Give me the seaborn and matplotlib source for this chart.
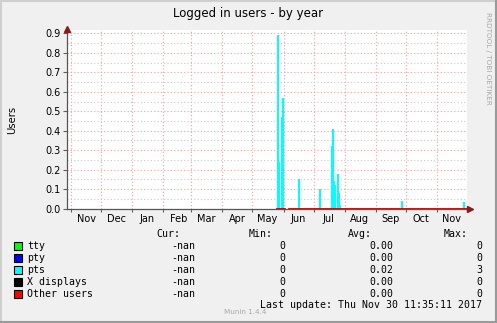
import matplotlib
matplotlib.use("Agg")
import matplotlib.pyplot as plt
import matplotlib.dates as mdates
import matplotlib.ticker as mticker
from matplotlib.patches import Rectangle
from matplotlib.lines import Line2D
import seaborn as sns
import pandas as pd
import numpy as np

# ---------------- data ----------------
title = "Logged in users - by year"
y_label = "Users"
x_start = "2016-10-28"
x_end = "2017-12-01"
y_ticks = [0.0, 0.1, 0.2, 0.3, 0.4, 0.5, 0.6, 0.7, 0.8, 0.9]

pts_dates = ["2017-05-26", "2017-05-27", "2017-05-30", "2017-05-31",
             "2017-06-16", "2017-07-07", "2017-07-19", "2017-07-20",
             "2017-07-21", "2017-07-22", "2017-07-25", "2017-07-26",
             "2017-07-27", "2017-09-27", "2017-11-28"]
pts_values = [0.89, 0.24, 0.47, 0.57,
              0.15, 0.10, 0.32, 0.41,
              0.14, 0.12, 0.18, 0.08,
              0.02, 0.04, 0.035]

# periods where "Other users" has data (value 0)
other_periods = [("2017-05-25", "2017-06-01"), ("2017-06-06", "2017-11-30")]
other_value = 0.0

legend_names = ["tty", "pty", "pts", "X displays", "Other users"]
legend_colors = ["#00ff00", "#0000ff", "#00ffff", "#000000", "#ff0000"]
cur_vals = ["-nan", "-nan", "-nan", "-nan", "-nan"]
min_vals = ["0", "0", "0", "0", "0"]
avg_vals = ["0.00", "0.00", "0.02", "0.00", "0.00"]
max_vals = ["0", "0", "3", "0", "0"]
last_update = "Last update: Thu Nov 30 11:35:11 2017"
munin_version = "Munin 1.4.4"
side_text = "RRDTOOL / TOBI OETIKER"

# ---------------- figure ----------------
W, H = 497, 323
fig = plt.figure(figsize=(W / 100, H / 100), dpi=100, facecolor="#f0f0f0")

def fx(x):
    return x / W

def fy(y):
    return 1 - y / H

ax_l, ax_r, ax_t, ax_b = 67, 467, 30, 208.7
ax = fig.add_axes([fx(ax_l), fy(ax_b), (ax_r - ax_l) / W, (ax_b - ax_t) / H])
ax.set_facecolor("white")

pts_num = mdates.date2num(pd.to_datetime(pts_dates))
sns.histplot(x=pts_num, weights=pts_values, discrete=True, color="#00ffff",
             alpha=1, linewidth=0.4, edgecolor="#00ffff", antialiased=False,
             ax=ax, zorder=3)

rows = []
for i, (a, b) in enumerate(other_periods):
    for d in pd.date_range(a, b, freq="D"):
        rows.append({"x": mdates.date2num(d), "y": other_value, "seg": i})
other_df = pd.DataFrame(rows)
sns.lineplot(data=other_df, x="x", y="y", units="seg", estimator=None,
             color="#c00000", linewidth=2.0, ax=ax, zorder=4, legend=False)

x0 = mdates.date2num(pd.Timestamp(x_start))
x1 = mdates.date2num(pd.Timestamp(x_end))
ax.set_xlim(x0, x1)
ax.set_ylim(0, 0.917)

# grid
ax.set_yticks(y_ticks)
ax.yaxis.set_major_formatter(mticker.FormatStrFormatter("%.1f"))
ax.yaxis.set_minor_locator(mticker.MultipleLocator(0.05))
ax.xaxis.set_major_locator(mdates.MonthLocator())
ax.xaxis.set_major_formatter(mticker.NullFormatter())
ax.xaxis.set_minor_locator(mdates.MonthLocator(bymonthday=16))
ax.xaxis.set_minor_formatter(mdates.DateFormatter("%b"))

ax.grid(which="major", axis="both", color="#f2a0a0", linestyle=(0, (1, 2)), linewidth=0.8, zorder=0)
ax.grid(which="minor", axis="y", color="#c8c8c8", linestyle=(0, (1, 2)), linewidth=0.8, zorder=0)
ax.set_axisbelow(True)

ax.tick_params(axis="y", which="major", length=3, width=0.8, color="#606060",
               labelsize=7, pad=1.5, labelcolor="black")
ax.tick_params(axis="y", which="minor", length=0)
ax.tick_params(axis="x", which="major", length=2.5, width=0.8, color="#606060",
               labelbottom=False)
ax.tick_params(axis="x", which="minor", length=0, labelsize=7, pad=4, labelcolor="black")
for lab in ax.get_yticklabels() + ax.get_xticklabels(minor=True):
    lab.set_fontfamily("DejaVu Sans")

for s in ["top", "right"]:
    ax.spines[s].set_visible(False)
for s in ["left", "bottom"]:
    ax.spines[s].set_color("#555555")
    ax.spines[s].set_linewidth(0.9)
    ax.spines[s].set_zorder(2)
ax.set_xlabel("")
ax.set_ylabel("")

# arrows
ax.plot([0], [1.005], marker="^", markersize=4.5, color="#8b1a1a", transform=ax.transAxes, clip_on=False, zorder=6)
ax.plot([1.008], [0], marker=">", markersize=4.5, color="#8b1a1a", transform=ax.transAxes, clip_on=False, zorder=6)

# titles / labels
fig.text(fx(248), fy(13), title, ha="center", va="center", fontsize=8.5, family="DejaVu Sans")
fig.text(fx(12), fy(120), y_label, ha="center", va="center", rotation=90, fontsize=7.2, family="DejaVu Sans")
fig.text(fx(488), fy(58), side_text, ha="center", va="center", rotation=270, fontsize=5.2,
         color="#a8a8a8", family="DejaVu Sans")

# legend
mono = "DejaVu Sans Mono"
fs = 7.1
header_y = 234
row_y = [246, 258, 270, 282, 294]
fig.text(fx(180), fy(header_y), "Cur:", ha="right", va="center", fontsize=fs, family=mono)
fig.text(fx(273), fy(header_y), "Min:", ha="right", va="center", fontsize=fs, family=mono)
fig.text(fx(372), fy(header_y), "Avg:", ha="right", va="center", fontsize=fs, family=mono)
fig.text(fx(468), fy(header_y), "Max:", ha="right", va="center", fontsize=fs, family=mono)
for i, name in enumerate(legend_names):
    y = row_y[i]
    fig.patches.append(Rectangle((fx(13.5), fy(y + 4)), 8 / W, 8 / H, transform=fig.transFigure,
                                 facecolor=legend_colors[i], edgecolor="black", linewidth=0.8))
    fig.text(fx(27), fy(y), name, ha="left", va="center", fontsize=fs, family=mono)
    fig.text(fx(195), fy(y), cur_vals[i], ha="right", va="center", fontsize=fs, family=mono)
    fig.text(fx(285), fy(y), min_vals[i], ha="right", va="center", fontsize=fs, family=mono)
    fig.text(fx(393), fy(y), avg_vals[i], ha="right", va="center", fontsize=fs, family=mono)
    fig.text(fx(482), fy(y), max_vals[i], ha="right", va="center", fontsize=fs, family=mono)
fig.text(fx(482), fy(305), last_update, ha="right", va="center", fontsize=fs, family=mono)
fig.text(fx(245), fy(312), munin_version, ha="center", va="center", fontsize=5.2,
         color="#a8a8a8", family="DejaVu Sans")

# frame
fig.add_artist(Line2D([0, 1], [1 - 1 / H, 1 - 1 / H], transform=fig.transFigure, color="#cfcfcf", linewidth=1.5))
fig.add_artist(Line2D([1 / W, 1 / W], [0, 1], transform=fig.transFigure, color="#cfcfcf", linewidth=1.5))
fig.add_artist(Line2D([0, 1], [1 / H, 1 / H], transform=fig.transFigure, color="#9a9a9a", linewidth=1.5))
fig.add_artist(Line2D([1 - 1 / W, 1 - 1 / W], [0, 1], transform=fig.transFigure, color="#9a9a9a", linewidth=1.5))

fig.savefig("out.png", dpi=100, facecolor=fig.get_facecolor())
